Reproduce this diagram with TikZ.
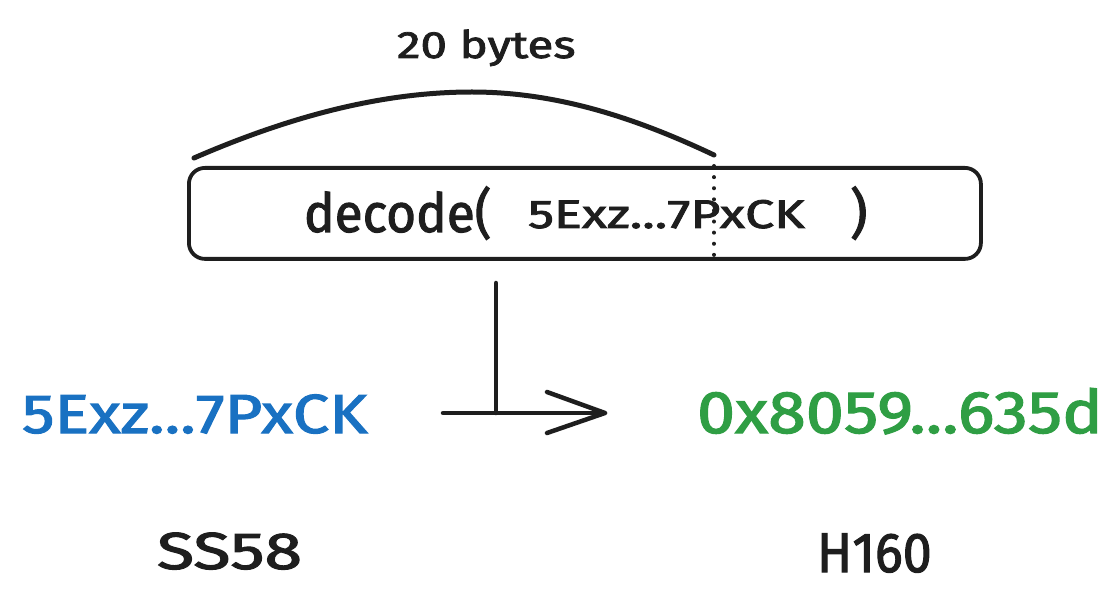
\documentclass[tikz,border=0pt]{standalone}
\usepackage{graphicx}
\usepackage{fontspec}
\setmainfont{Fira Sans}
\newfontfamily\handfont{Fira Sans}[FakeBold=2]
\definecolor{inkc}{HTML}{1E1E1E}
\definecolor{bluec}{HTML}{1971C2}
\definecolor{greenc}{HTML}{2F9E44}
\newcommand\sized[1]{\handfont\fontsize{#1}{#1}\selectfont}
\begin{document}
\begin{tikzpicture}[x=1pt,y=-1pt,
  txt/.style={inner sep=0pt,outer sep=0pt,anchor=base west,text=inkc},
  stroke/.style={draw=inkc,line width=4.5pt,line cap=round,line join=round}]
\useasboundingbox (0,0) rectangle (1119,612);
% brace-like curve
\coordinate (cl) at (194,158);
\coordinate (cr) at (714,155);
\draw[stroke,line width=5pt] (cl) .. controls (300,112) and (390,92) .. (472,92)
  .. controls (560,92) and (640,120) .. (cr);
\node[txt] (bytes) at (397,58) {\sized{38}\scalebox{1.25}[1]{20 bytes}};
% box
\node[draw=inkc,line width=3.8pt,rounded corners=16pt,minimum width=792pt,minimum height=91pt,inner sep=0pt,anchor=north west] (box) at (187,166) {};
\node[txt] (dec) at (304,232) {\sized{54}\scalebox{0.95}[1]{decode(}};
\node[txt] (arg) at (528,228) {\sized{40}\scalebox{1.3}[1]{5Exz...7PxCK}};
\node[txt] (cp) at (850,232) {\sized{54})};
\coordinate (dt) at (714,166);
\coordinate (db) at (714,257);
\draw[inkc,line width=4pt,line cap=round,dash pattern=on 0.1pt off 11pt] (dt) -- (db);
% arrow
\coordinate (vt) at (496,283);
\coordinate (hl) at (443,413);
\coordinate (hr) at (605,413);
\coordinate (vb) at (496,413);
\coordinate (au) at (547,392);
\coordinate (ad) at (547,433);
\draw[stroke] (vt) -- (vb);
\draw[stroke] (hl) -- (hr);
\draw[stroke] (au) -- (hr) -- (ad);
% labels
\node[txt,text=bluec] (b58) at (22,433) {\sized{55}\scalebox{1.18}[1]{5Exz...7PxCK}};
\node[txt,text=greenc] (h160v) at (697,433) {\sized{60}\scalebox{1.14}[1]{0x8059...635d}};
\node[txt] (ss) at (157,569) {\sized{52}\scalebox{1.31}[1]{SS58}};
\node[txt] (hh) at (817,572) {\sized{56}\scalebox{0.93}[1]{H160}};
\end{tikzpicture}
\end{document}
